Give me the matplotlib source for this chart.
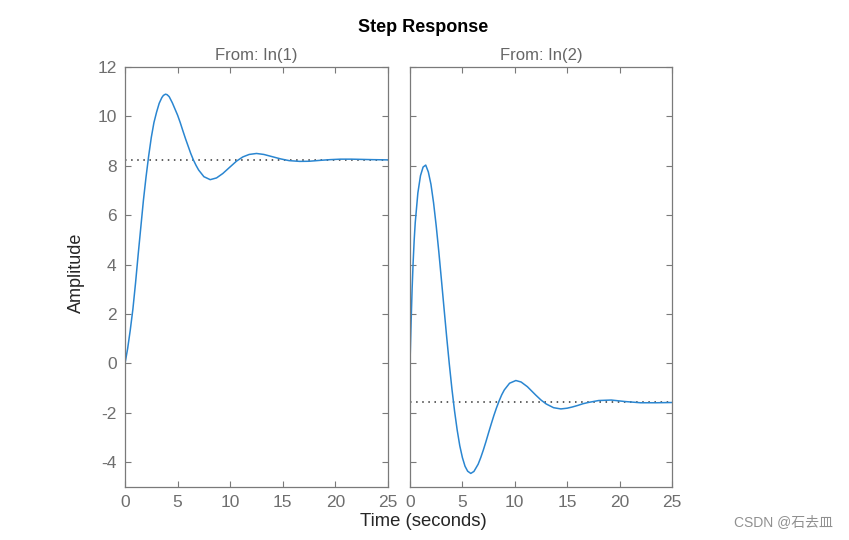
import matplotlib
matplotlib.use("Agg")
import matplotlib.pyplot as plt

# ---- data ----
t1 = [0, 0.25, 0.5, 0.75, 1.0, 1.25, 1.5, 1.75, 2.0, 2.25, 2.5, 2.75, 3.0, 3.25, 3.5, 3.65, 3.85,
      4.0, 4.2, 4.5, 4.78, 5.0, 5.25, 5.5, 5.75, 6.0, 6.25, 6.5, 6.75, 7.0, 7.5, 8.1, 8.7, 9.3, 10.0,
      10.6, 11.2, 11.8, 12.5, 13.2, 14.0, 14.8, 15.6, 16.6, 17.5, 18.5, 19.5, 20.5, 21.5, 22.5,
      23.5, 25.0]
y1 = [0, 0.6, 1.35, 2.2, 3.25, 4.4, 5.5, 6.6, 7.55, 8.4, 9.15, 9.75, 10.17, 10.53, 10.76, 10.85, 10.9,
      10.88, 10.8, 10.55, 10.27, 10.05, 9.75, 9.42, 9.1, 8.8, 8.5, 8.24, 8.02, 7.83, 7.56, 7.44, 7.51, 7.69, 7.96,
      8.19, 8.36, 8.46, 8.5, 8.46, 8.37, 8.28, 8.21, 8.18, 8.185, 8.22, 8.25, 8.27, 8.27, 8.26,
      8.25, 8.24]
final1 = 8.25

t2 = [0, 0.1, 0.2, 0.3, 0.4, 0.5, 0.75, 1.0, 1.25, 1.5, 1.75, 2.0, 2.25, 2.5, 2.75, 3.0,
      3.25, 3.5, 3.75, 4.0, 4.25, 4.5, 4.75, 5.0, 5.25, 5.5, 5.8, 6.1, 6.5, 6.75, 7.0, 7.25,
      7.5, 7.75, 8.0, 8.25, 8.5, 8.75, 9.0, 9.5, 10.1, 10.6, 11.2, 11.6, 12.0, 12.5, 13.0,
      13.7, 14.4, 15.0, 15.5, 16.0, 16.5, 17.0, 18.0, 19.2, 20.5, 22.0, 23.5, 25.0]
y2 = [0, 1.6, 3.0, 4.1, 5.0, 5.7, 6.9, 7.6, 7.95, 8.03, 7.75, 7.25, 6.5, 5.57, 4.52, 3.38,
      2.22, 1.07, -0.02, -1.03, -1.92, -2.69, -3.33, -3.81, -4.16, -4.36, -4.45, -4.37, -4.08, -3.81, -3.5, -3.16,
      -2.8, -2.45, -2.11, -1.8, -1.52, -1.27, -1.07, -0.8, -0.69, -0.75, -0.94, -1.11, -1.28, -1.48, -1.64,
      -1.79, -1.84, -1.81, -1.76, -1.7, -1.63, -1.58, -1.5, -1.48, -1.54, -1.59, -1.59, -1.58]
final2 = -1.57

xticks = [0, 5, 10, 15, 20, 25]
yticks = [-4, -2, 0, 2, 4, 6, 8, 10, 12]
col_titles = ["From: In(1)", "From: In(2)"]

plt.rcParams['font.family'] = ['Liberation Sans', 'DejaVu Sans']
plt.rcParams['axes.unicode_minus'] = False

fig = plt.figure(figsize=(8.49, 5.40), dpi=100)
W, H = 849, 540
ax1 = fig.add_axes([125 / W, 1 - 487 / H, 263 / W, 420 / H])
ax2 = fig.add_axes([410 / W, 1 - 487 / H, 262 / W, 420 / H])

line_col = '#2a86d1'
edge_col = '#7a7a7a'
tick_col = '#6e6e6e'

for ax, t, y, yf, title in [(ax1, t1, y1, final1, col_titles[0]),
                            (ax2, t2, y2, final2, col_titles[1])]:
    ax.plot([0, 25], [yf, yf], linestyle=(0, (1, 3)), color='#333333', lw=1.1)
    ax.plot(t, y, color=line_col, lw=1.1)
    ax.set_xlim(0, 25)
    ax.set_ylim(-5, 12)
    ax.set_xticks(xticks)
    ax.set_yticks(yticks)
    ax.tick_params(direction='in', length=4, width=0.8, colors=edge_col,
                   labelcolor=tick_col, labelsize=12.5, top=True, right=True, pad=6)
    for s in ax.spines.values():
        s.set_color(edge_col)
        s.set_linewidth(0.9)
    ax.set_title(title, fontsize=12, color='#666666', pad=5)

ax2.tick_params(labelleft=False)

fig.text(423 / W, 1 - 27 / H, "Step Response", ha='center', va='center',
         fontsize=13, fontweight='bold', color='black')
fig.text(423 / W, 1 - 521 / H, "Time (seconds)", ha='center', va='center',
         fontsize=13.3, color='#262626')
fig.text(76 / W, 1 - 273 / H, "Amplitude", ha='center', va='center',
         rotation=90, fontsize=13, color='#262626')
fig.text(833 / W, 1 - 522 / H, "CSDN @石去皿", ha='right', va='center',
         fontsize=10, color='#909090',
         family=['Liberation Sans', 'Noto Sans CJK SC'])

fig.savefig("out.png", dpi=100)
